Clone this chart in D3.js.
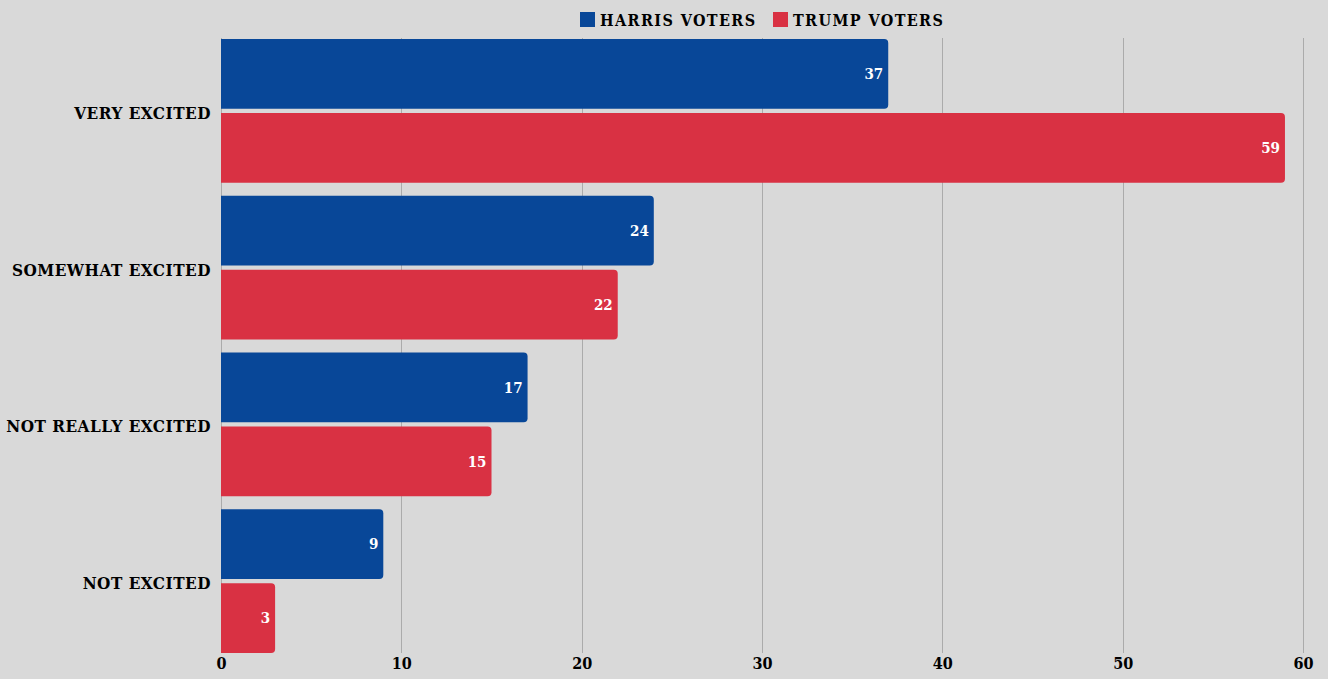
<!DOCTYPE html>
<html><head><meta charset="utf-8">
<script src="https://cdn.jsdelivr.net/npm/d3@7"></script>
<style>
html,body{margin:0;padding:0;background:#d9d9d9;}
svg{display:block;}
</style></head>
<body>
<svg id="chart" width="1328" height="679"></svg>
<script>
const categories = ["VERY EXCITED", "SOMEWHAT EXCITED", "NOT REALLY EXCITED", "NOT EXCITED"];
const seriesNames = ["HARRIS VOTERS", "TRUMP VOTERS"];
const harrisValues = [37, 24, 17, 9];
const trumpValues = [59, 22, 15, 3];
const xTicks = [0, 10, 20, 30, 40, 50, 60];
const colors = ["#084798", "#d93143"];

const svg = d3.select("#chart");
const fontFam = "'DejaVu Serif Condensed','DejaVu Serif',serif";

const x = d3.scaleLinear().domain([0, 60]).range([221, 1303]);
const y = d3.scaleBand().domain(categories).range([39, 653]).paddingInner(0.083).paddingOuter(0);
const ySub = d3.scaleBand().domain(seriesNames).range([0, y.bandwidth()]).paddingInner(0.055);

// gridlines
svg.append("g").selectAll("line").data(xTicks).join("line")
  .attr("x1", d => Math.round(x(d)) + 0.5).attr("x2", d => Math.round(x(d)) + 0.5)
  .attr("y1", 38).attr("y2", 653)
  .attr("stroke", "#ababab").attr("stroke-width", 1);

// x axis labels
const xAxis = d3.axisBottom(x).tickValues(xTicks).tickSize(0).tickPadding(0);
const gx = svg.append("g").attr("transform", "translate(0,658)").call(xAxis);
gx.select(".domain").remove();
gx.selectAll("text").attr("font-family", fontFam).attr("font-weight", "bold")
  .attr("font-size", 16).attr("fill", "#000").attr("dy", "0.71em");

// y axis labels
const yAxis = d3.axisLeft(y).tickSize(0).tickPadding(0);
const gy = svg.append("g").attr("transform", "translate(211,0)").call(yAxis);
gy.select(".domain").remove();
gy.selectAll(".tick").attr("transform", d => `translate(0,${y(d) + ySub.bandwidth() + 4})`);
gy.selectAll("text").attr("font-family", fontFam).attr("font-weight", "bold")
  .attr("font-size", 17).attr("letter-spacing", 0.5).attr("fill", "#000").attr("dy", "0.35em");

// bars
const rows = categories.map((c, i) => ({cat: c, vals: [harrisValues[i], trumpValues[i]]}));
const r = 4;
function barPath(x0, y0, w, h) {
  const rr = Math.min(r, w / 2);
  return `M${x0},${y0}H${x0 + w - rr}Q${x0 + w},${y0} ${x0 + w},${y0 + rr}V${y0 + h - rr}Q${x0 + w},${y0 + h} ${x0 + w - rr},${y0 + h}H${x0}Z`;
}
const groups = svg.append("g").selectAll("g").data(rows).join("g")
  .attr("transform", d => `translate(0,${y(d.cat)})`);
groups.selectAll("path").data(d => d.vals.map((v, j) => ({s: seriesNames[j], v, j}))).join("path")
  .attr("d", d => barPath(x(0), ySub(d.s), x(d.v) - x(0), ySub.bandwidth()))
  .attr("fill", d => colors[d.j]);
groups.selectAll("text").data(d => d.vals.map((v, j) => ({s: seriesNames[j], v, j}))).join("text")
  .attr("x", d => x(d.v) - 5).attr("y", d => ySub(d.s) + ySub.bandwidth() / 2)
  .attr("text-anchor", "end").attr("dy", "0.35em")
  .attr("font-family", fontFam).attr("font-weight", "bold").attr("font-size", 15)
  .attr("fill", "#fff").text(d => d.v);

// legend
const legend = svg.append("g");
const legX = [580, 773];
seriesNames.forEach((s, i) => {
  const g = legend.append("g").attr("transform", `translate(${legX[i]},12)`);
  g.append("rect").attr("width", 15).attr("height", 15).attr("fill", colors[i]);
  g.append("text").attr("x", 20).attr("y", 8).attr("dy", "0.35em")
    .attr("font-family", fontFam).attr("font-weight", "bold").attr("font-size", 16)
    .attr("letter-spacing", 1.4).attr("fill", "#000").text(s);
});
</script>
</body></html>
